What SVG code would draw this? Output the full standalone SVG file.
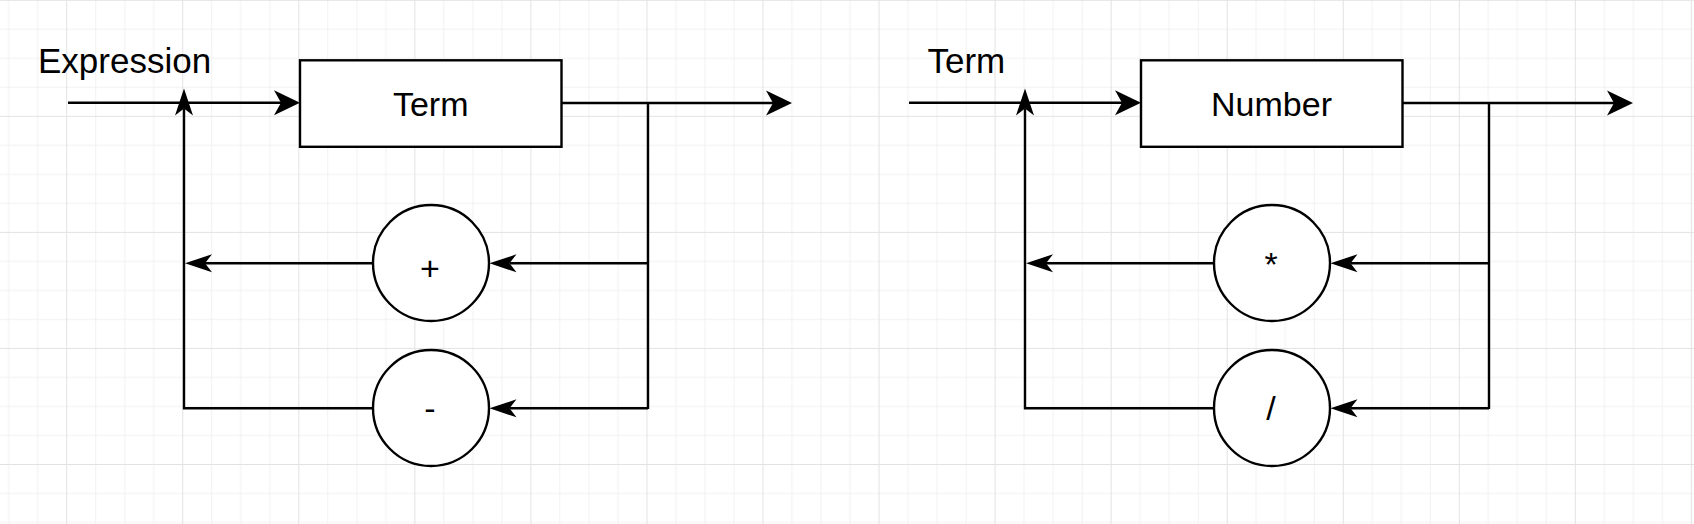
<svg xmlns="http://www.w3.org/2000/svg" width="1694" height="524" viewBox="0 0 1694 524">
<style>
.t{font-family:"Liberation Sans",Helvetica,Arial,sans-serif;font-size:34px;fill:#000}
.h{font-size:35px}
.c{text-anchor:middle}
.box{fill:#fff;stroke:#000;stroke-width:2.4}
.ln{fill:none;stroke:#000;stroke-width:2.4;stroke-linejoin:miter}
.big{marker-end:url(#ab)}
.sm{marker-end:url(#as)}
</style>
<defs>
<pattern id="grid" patternUnits="userSpaceOnUse" x="66.2" y="-0.2" width="116.05" height="116.05">
<path d="M29.51,0V116.05M58.53,0V116.05M87.54,0V116.05M0,29.51H116.05M0,58.53H116.05M0,87.54H116.05" stroke="#f1f1f1" stroke-width="1"/>
<path d="M0.5,0V116.05M0,0.5H116.05" stroke="#e2e2e2" stroke-width="1"/>
</pattern>
<marker id="ab" markerUnits="userSpaceOnUse" viewBox="0 -13 26 26" refX="7" refY="0" markerWidth="26" markerHeight="26" orient="auto">
<path d="M0,-12.5L26,0L0,12.5L7,0Z" fill="#000"/>
</marker>
<marker id="as" markerUnits="userSpaceOnUse" viewBox="0 -10 28 20" refX="7" refY="0" markerWidth="28" markerHeight="20" orient="auto">
<path d="M0,-9L27,0L0,9L7,0Z" fill="#000"/>
</marker>
</defs>
<rect width="1694" height="524" fill="#fff"/>
<rect width="1694" height="524" fill="url(#grid)"/>

<g id="connectors">
<path class="ln big" d="M68,102.7H281"/>
<path class="ln big" d="M561,103H773"/>
<path class="ln" d="M648,103V409"/>
<path class="ln sm" d="M648,263.3H509.5"/>
<path class="ln sm" d="M373,263.3H205"/>
<path class="ln sm" d="M648,408.3H509.5"/>
<path class="ln sm" d="M373,408.3H184V108.5"/>

<path class="ln big" d="M909,102.7H1122"/>
<path class="ln big" d="M1402,103H1614"/>
<path class="ln" d="M1489,103V409"/>
<path class="ln sm" d="M1489,263.3H1350.5"/>
<path class="ln sm" d="M1214,263.3H1046"/>
<path class="ln sm" d="M1489,408.3H1350.5"/>
<path class="ln sm" d="M1214,408.3H1025V108.5"/>
</g>

<g id="label-expression"><text class="t h" x="38" y="72.7">Expression</text></g>
<g id="node-term"><rect class="box" x="300" y="60.3" width="261.5" height="86.5"/><text class="t c" x="430.7" y="116">Term</text></g>
<g id="node-plus"><circle class="box" cx="431" cy="263" r="58"/><text class="t c" x="430" y="280">+</text></g>
<g id="node-minus"><circle class="box" cx="431" cy="408" r="58"/><text class="t c" x="430" y="420">-</text></g>

<g id="label-term"><text class="t h" x="927.5" y="72.7">Term</text></g>
<g id="node-number"><rect class="box" x="1141" y="60.3" width="261.5" height="86.5"/><text class="t c" x="1271.5" y="116">Number</text></g>
<g id="node-times"><circle class="box" cx="1272" cy="263" r="58"/><text class="t c" x="1271" y="276">*</text></g>
<g id="node-divide"><circle class="box" cx="1272" cy="408" r="58"/><text class="t c" x="1271" y="420">/</text></g>
</svg>
